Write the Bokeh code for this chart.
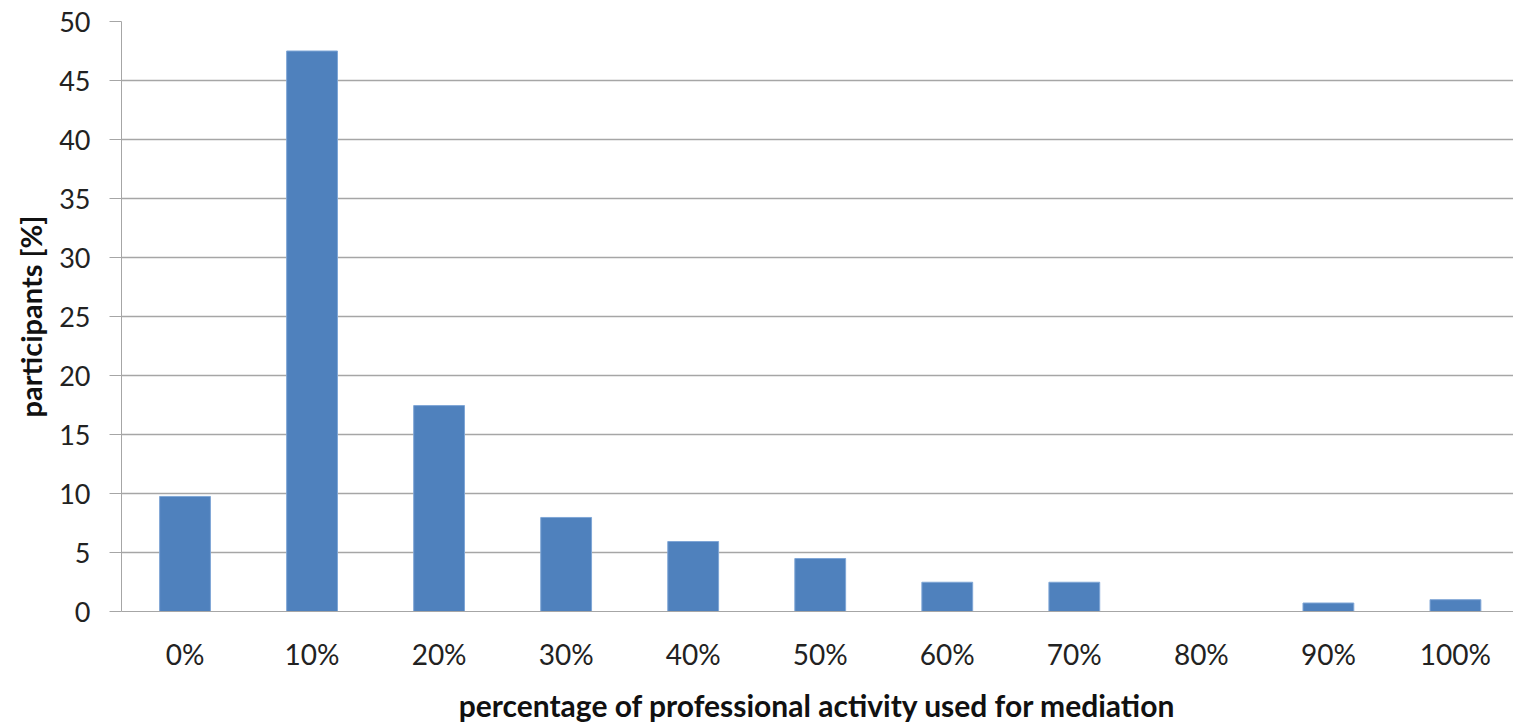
from bokeh.plotting import figure
from bokeh.models import Range1d, SingleIntervalTicker, FixedTicker, ColumnDataSource
from bokeh.embed import file_html
from bokeh.resources import INLINE

categories = ["0%", "10%", "20%", "30%", "40%", "50%", "60%", "70%", "80%", "90%", "100%"]
participants = [9.75, 47.5, 17.45, 7.97, 5.93, 4.49, 2.48, 2.48, 0.0, 0.72, 1.0]

positions = list(range(len(categories)))
source = ColumnDataSource(data=dict(x=positions, val=participants))

FONT = "Lato"
GRID = "#A6A6A6"

# the right end of the last category slot is cut by the picture's edge
p = figure(width=1513, height=725, output_backend="svg", toolbar_location=None,
           x_range=Range1d(-0.5, len(categories) - 0.5 - 0.043),
           y_range=Range1d(0, 50),
           min_border_left=121, min_border_right=0, min_border_top=21, min_border_bottom=113)
p.outline_line_color = None
p.background_fill_color = "white"
p.border_fill_color = "white"

p.vbar(x="x", top="val", width=0.4, source=source,
       fill_color="#4F81BD", line_color="#7FA6D6", line_width=1)

p.yaxis.ticker = SingleIntervalTicker(interval=5)
p.yaxis.minor_tick_line_color = None
p.yaxis.major_tick_out = 12
p.yaxis.major_tick_in = 0
p.yaxis.major_tick_line_color = GRID
p.yaxis.axis_line_color = GRID
p.yaxis.major_label_text_font = FONT
p.yaxis.major_label_text_font_size = "27px"
p.yaxis.major_label_text_color = "#222222"
p.yaxis.major_label_standoff = 19
p.yaxis.axis_label = "participants [%]"
p.yaxis.axis_label_text_font = FONT
p.yaxis.axis_label_text_font_style = "bold"
p.yaxis.axis_label_text_font_size = "29px"
p.yaxis.axis_label_text_color = "#111111"
p.yaxis.axis_label_standoff = 8

p.xaxis.ticker = FixedTicker(ticks=positions)
p.xaxis.major_label_overrides = {i: c for i, c in zip(positions, categories)}
p.xaxis.axis_line_color = GRID
p.xaxis.major_tick_line_color = None
p.xaxis.minor_tick_line_color = None
p.xaxis.major_label_text_font = FONT
p.xaxis.major_label_text_font_size = "28px"
p.xaxis.major_label_text_color = "#222222"
p.xaxis.major_label_standoff = 19
p.xaxis.axis_label = "percentage of professional activity used for mediation"
p.xaxis.axis_label_text_font = FONT
p.xaxis.axis_label_text_font_style = "bold"
p.xaxis.axis_label_text_font_size = "30px"
p.xaxis.axis_label_text_color = "#111111"
p.xaxis.axis_label_standoff = 13

p.xgrid.grid_line_color = None
p.ygrid.grid_line_color = GRID
p.ygrid.grid_line_width = 1.5

open("out.html", "w").write(file_html(p, INLINE))
